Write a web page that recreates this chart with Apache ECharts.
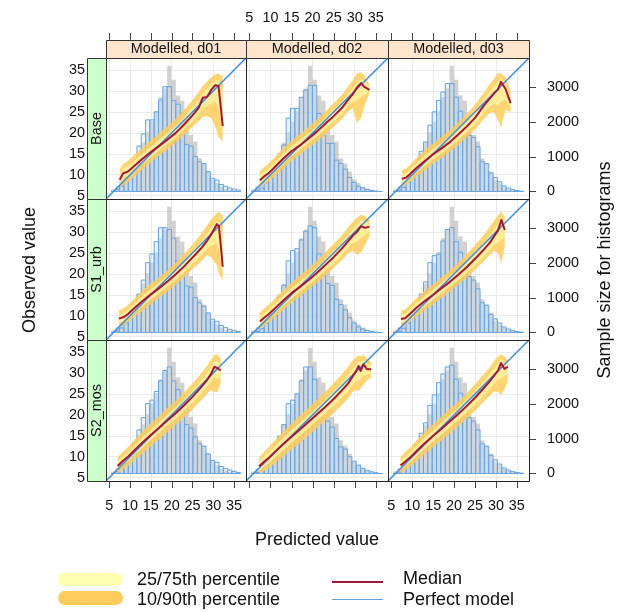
<!DOCTYPE html>
<html><head><meta charset="utf-8">
<script src="https://cdn.jsdelivr.net/npm/echarts@6/dist/echarts.min.js"></script>
<style>html,body{margin:0;padding:0;background:#fff}#c{width:626px;height:612px}</style>
</head><body><div id="c"></div>
<script>
// ---------- data ----------
const models = ['Modelled, d01', 'Modelled, d02', 'Modelled, d03'];
const scenarios = ['Base', 'S1_urb', 'S2_mos'];
const axisTicks = [5, 10, 15, 20, 25, 30, 35];
const countTicks = [0, 1000, 2000, 3000];
const valueRange = [4.2, 37.9];
const countRange = [-215, 3822];
const histBreaks = [5.4, 6.44, 7.48, 8.52, 9.56, 10.6, 11.64, 12.68, 13.72, 14.76, 15.8, 16.84, 17.88, 18.92, 19.96, 21.0, 22.04, 23.08, 24.12, 25.16, 26.2, 27.24, 28.28, 29.32, 30.36, 31.4, 32.44, 33.48, 34.52, 35.56, 36.6];
const histObserved = [60, 150, 300, 450, 650, 850, 1100, 1400, 1700, 2000, 2300, 2700, 2950, 3600, 3200, 2750, 2600, 1950, 1620, 1430, 950, 800, 570, 340, 240, 140, 80, 50, 25, 10];

const base_d01_pred = [0, 50, 150, 300, 550, 900, 1300, 1650, 2050, 2050, 2280, 2620, 3000, 3000, 2600, 2500, 2050, 1350, 1300, 1000, 850, 800, 570, 380, 330, 200, 150, 100, 70, 40];
const base_d02_pred = [0, 30, 100, 250, 450, 700, 1000, 1330, 2100, 2380, 2380, 2700, 2900, 3040, 3040, 2230, 1610, 1380, 1380, 900, 800, 640, 400, 260, 150, 100, 60, 30, 10, 0];
const base_d03_pred = [0, 40, 120, 280, 500, 800, 1150, 1420, 1900, 2280, 2610, 2850, 3090, 3090, 2700, 2300, 1900, 1610, 1550, 1280, 850, 800, 530, 400, 280, 160, 100, 60, 30, 10];
const s1_d01_pred = [0, 40, 130, 280, 520, 820, 1100, 1500, 2000, 2250, 2600, 3000, 3000, 2950, 2700, 2050, 1900, 1330, 1300, 1000, 850, 750, 560, 380, 320, 200, 140, 90, 60, 30];
const s1_d02_pred = [0, 30, 110, 260, 460, 720, 1020, 1350, 2050, 2350, 2400, 2650, 2900, 3050, 3000, 2250, 1650, 1400, 1350, 950, 800, 650, 420, 270, 160, 100, 60, 30, 10, 0];
const s1_d03_pred = [0, 40, 120, 270, 480, 780, 1100, 1450, 2000, 2200, 2240, 2620, 2950, 3000, 2600, 2300, 1900, 1600, 1500, 1250, 850, 780, 520, 390, 270, 160, 100, 60, 30, 10];
const s2_d01_pred = [0, 50, 140, 300, 560, 880, 1250, 1600, 2000, 2100, 2350, 2650, 2950, 3050, 2650, 2400, 2000, 1400, 1300, 1050, 850, 780, 560, 370, 320, 200, 140, 100, 60, 30];
const s2_d02_pred = [0, 30, 110, 250, 450, 700, 1050, 1400, 2000, 2100, 2280, 2650, 3050, 3050, 2700, 2000, 1570, 1500, 1330, 1000, 760, 700, 480, 350, 240, 150, 95, 50, 20, 0];
const s2_d03_pred = [0, 40, 120, 280, 500, 820, 1150, 1450, 1950, 2250, 2600, 2850, 3050, 3100, 2700, 2300, 1900, 1600, 1500, 1250, 850, 780, 520, 390, 270, 160, 100, 60, 30, 10];

const base_d01_x   = [7.5, 8.3, 9.5, 11, 13, 15, 17, 19, 21, 23, 25, 26.5, 27.5, 28.5, 29.5, 30.5, 31.3, 32.3];
const base_d01_med = [8.8, 10.3, 10.8, 12.1, 13.8, 15.4, 16.9, 18.4, 20.0, 22.0, 24.2, 26.0, 28.4, 28.6, 30.2, 31.4, 31.2, 21.6];
const base_d01_q25 = [7.8, 9.0, 9.6, 10.8, 12.6, 14.2, 15.8, 17.3, 18.9, 20.8, 22.8, 24.4, 26.0, 26.4, 27.0, 27.5, 26.0, 19.5];
const base_d01_q75 = [10.0, 11.5, 12.0, 13.4, 15.0, 16.7, 18.4, 20.0, 21.7, 23.7, 26.0, 27.9, 29.5, 30.5, 31.6, 32.5, 32.6, 29.0];
const base_d01_q10 = [7.0, 7.5, 8.2, 9.5, 11.4, 13.0, 14.6, 16.1, 17.7, 19.5, 21.4, 22.8, 23.8, 24.0, 23.5, 21.5, 19.0, 18.0];
const base_d01_q90 = [11.2, 12.6, 13.3, 14.8, 16.5, 18.2, 19.9, 21.6, 23.4, 25.5, 27.8, 29.8, 31.2, 32.2, 33.3, 34.0, 34.2, 33.5];

const base_d02_x   = [7.5, 8.5, 9.5, 11, 13, 15, 17, 19, 21, 23, 25, 27, 28.5, 29.5, 30.5, 31.5, 32.3, 33.5];
const base_d02_med = [8.7, 9.6, 10.3, 11.8, 13.8, 15.6, 17.0, 18.6, 20.3, 22.2, 24.0, 26.0, 28.0, 29.2, 30.8, 31.9, 31.0, 30.3];
const base_d02_q25 = [7.8, 8.6, 9.3, 10.7, 12.6, 14.4, 15.9, 17.5, 19.1, 20.9, 22.7, 24.6, 26.5, 27.4, 27.8, 28.5, 29.0, 29.8];
const base_d02_q75 = [9.8, 10.7, 11.4, 12.9, 15.0, 16.8, 18.3, 19.9, 21.6, 23.6, 25.5, 27.5, 29.4, 30.6, 32.0, 32.9, 32.5, 31.0];
const base_d02_q10 = [7.0, 7.7, 8.3, 9.6, 11.5, 13.3, 14.8, 16.4, 17.9, 19.6, 21.4, 23.3, 25.2, 25.9, 22.4, 23.5, 26.5, 29.5];
const base_d02_q90 = [10.9, 11.8, 12.6, 14.2, 16.3, 18.1, 19.7, 21.4, 23.2, 25.1, 27.1, 29.2, 31.2, 32.5, 34.2, 34.5, 33.8, 31.5];

const base_d03_x   = [7.5, 8.5, 9.5, 11, 13, 15, 17, 19, 21, 23, 25, 27, 28.5, 29.5, 30.5, 31.2, 32.3, 33.5];
const base_d03_med = [9.0, 9.3, 10.2, 11.6, 13.3, 14.9, 16.3, 17.8, 19.6, 21.5, 23.6, 26.4, 28.2, 29.4, 30.4, 32.2, 30.5, 27.1];
const base_d03_q25 = [8.0, 8.4, 9.2, 10.5, 12.1, 13.7, 15.1, 16.6, 18.3, 20.1, 22.1, 24.7, 26.3, 27.0, 26.5, 27.5, 28.0, 26.0];
const base_d03_q75 = [10.1, 10.4, 11.3, 12.8, 14.6, 16.2, 17.6, 19.2, 21.0, 22.9, 25.1, 27.9, 29.8, 31.0, 32.2, 33.0, 32.0, 28.5];
const base_d03_q10 = [7.2, 7.6, 8.3, 9.5, 11.1, 12.6, 14.0, 15.5, 17.1, 18.9, 20.8, 23.2, 24.7, 25.0, 23.0, 21.2, 25.5, 25.0];
const base_d03_q90 = [11.1, 11.5, 12.4, 14.0, 15.9, 17.5, 19.0, 20.7, 22.5, 24.5, 26.7, 29.5, 31.6, 32.9, 34.3, 34.2, 33.3, 30.0];

const s1_d01_x   = [7.3, 8.5, 9.5, 11, 13, 15, 17, 19, 21, 23, 25, 27, 28.5, 29.5, 30.9, 31.4, 32.3];
const s1_d01_med = [9.3, 9.7, 10.4, 11.8, 13.5, 15.1, 16.6, 18.2, 19.9, 21.8, 23.9, 26.0, 27.9, 29.4, 31.9, 31.3, 21.7];
const s1_d01_q25 = [8.3, 8.7, 9.4, 10.7, 12.3, 13.9, 15.4, 16.9, 18.6, 20.4, 22.4, 24.3, 25.9, 26.8, 27.2, 25.5, 19.5];
const s1_d01_q75 = [10.4, 10.8, 11.5, 12.9, 14.7, 16.4, 17.9, 19.5, 21.3, 23.2, 25.4, 27.6, 29.6, 31.0, 32.6, 32.5, 29.0];
const s1_d01_q10 = [7.5, 7.9, 8.5, 9.7, 11.2, 12.8, 14.3, 15.8, 17.4, 19.2, 21.1, 22.9, 24.5, 24.0, 22.0, 20.0, 18.5];
const s1_d01_q90 = [11.3, 11.8, 12.6, 14.1, 16.0, 17.7, 19.2, 20.9, 22.7, 24.7, 27.0, 29.4, 31.5, 33.0, 34.5, 34.8, 34.0];

const s1_d02_x   = [7.5, 8.5, 9.5, 11, 13, 15, 17, 19, 21, 23, 25, 27, 28.5, 29.5, 30.5, 31.5, 32.5, 33.5];
const s1_d02_med = [8.6, 9.5, 10.3, 11.7, 13.6, 15.4, 16.9, 18.5, 20.2, 22.1, 24.0, 26.1, 27.9, 29.1, 30.0, 31.4, 31.0, 31.3];
const s1_d02_q25 = [7.7, 8.6, 9.3, 10.6, 12.4, 14.2, 15.7, 17.3, 18.9, 20.8, 22.6, 24.6, 26.3, 27.3, 27.6, 28.6, 29.3, 30.2];
const s1_d02_q75 = [9.7, 10.6, 11.4, 12.8, 14.8, 16.6, 18.2, 19.8, 21.5, 23.5, 25.5, 27.6, 29.4, 30.6, 31.7, 32.9, 32.5, 32.0];
const s1_d02_q10 = [6.9, 7.7, 8.4, 9.6, 11.4, 13.1, 14.6, 16.2, 17.8, 19.6, 21.4, 23.3, 25.0, 25.5, 24.6, 25.2, 27.0, 29.0];
const s1_d02_q90 = [10.8, 11.7, 12.5, 14.0, 16.1, 17.9, 19.6, 21.3, 23.1, 25.1, 27.2, 29.3, 31.2, 32.4, 33.4, 34.2, 33.8, 32.8];

const s1_d03_x   = [7.3, 8.3, 9.5, 11, 13, 15, 17, 19, 21, 23, 25, 27, 28.5, 29.5, 30.5, 31.3, 32.1];
const s1_d03_med = [9.2, 9.4, 10.5, 11.9, 13.5, 15.0, 16.6, 18.1, 19.8, 21.6, 23.6, 25.7, 27.4, 28.9, 30.4, 32.9, 30.5];
const s1_d03_q25 = [8.3, 8.5, 9.5, 10.8, 12.3, 13.8, 15.4, 16.9, 18.5, 20.2, 22.1, 24.1, 25.7, 26.8, 27.5, 28.0, 29.0];
const s1_d03_q75 = [10.3, 10.5, 11.6, 13.0, 14.7, 16.2, 17.9, 19.5, 21.2, 23.1, 25.2, 27.4, 29.2, 30.6, 32.0, 33.8, 32.3];
const s1_d03_q10 = [7.5, 7.7, 8.6, 9.8, 11.3, 12.7, 14.3, 15.8, 17.4, 19.1, 21.0, 22.9, 24.5, 25.5, 25.0, 22.5, 26.5];
const s1_d03_q90 = [11.2, 11.5, 12.7, 14.2, 16.0, 17.5, 19.2, 20.9, 22.7, 24.7, 26.9, 29.2, 31.2, 32.6, 34.0, 34.9, 33.5];

const s2_d01_x   = [7.0, 8.5, 9.5, 11, 13, 15, 17, 19, 21, 23, 25, 27, 28.5, 29.5, 30.3, 31.0, 31.8];
const s2_d01_med = [7.8, 9.2, 10.0, 11.5, 13.4, 15.2, 16.9, 18.7, 20.4, 22.3, 24.3, 26.5, 28.3, 29.8, 31.5, 31.2, 30.6];
const s2_d01_q25 = [7.0, 8.3, 9.0, 10.4, 12.2, 14.0, 15.7, 17.5, 19.1, 21.0, 22.9, 25.0, 26.7, 27.9, 29.0, 28.5, 29.0];
const s2_d01_q75 = [8.8, 10.2, 11.0, 12.6, 14.6, 16.4, 18.2, 20.0, 21.8, 23.7, 25.8, 28.0, 29.9, 31.4, 32.8, 33.0, 32.0];
const s2_d01_q10 = [6.0, 7.1, 7.8, 9.1, 10.8, 12.5, 14.2, 15.9, 17.6, 19.4, 21.3, 23.3, 25.0, 26.0, 25.5, 25.5, 27.5];
const s2_d01_q90 = [9.9, 11.4, 12.3, 14.0, 16.1, 18.0, 19.8, 21.7, 23.4, 25.4, 27.5, 29.8, 31.7, 33.2, 34.3, 34.5, 33.5];

const s2_d02_x   = [7.3, 8.5, 9.5, 11, 13, 15, 17, 19, 21, 23, 25, 27, 28.5, 29.5, 30.3, 30.9, 31.4, 32.1, 32.9, 33.9];
const s2_d02_med = [7.7, 8.8, 9.6, 11.1, 13.0, 14.8, 16.5, 18.3, 20.1, 21.9, 23.8, 25.9, 27.6, 29.2, 30.4, 31.7, 30.5, 32.1, 30.9, 30.9];
const s2_d02_q25 = [6.7, 7.6, 8.3, 9.7, 11.5, 13.3, 15.0, 16.8, 18.6, 20.4, 22.2, 24.2, 25.8, 27.2, 28.0, 28.3, 28.5, 29.5, 29.5, 29.8];
const s2_d02_q75 = [8.9, 10.1, 10.9, 12.5, 14.5, 16.4, 18.1, 19.9, 21.7, 23.6, 25.6, 27.8, 29.6, 31.0, 32.1, 32.8, 32.6, 33.2, 32.3, 31.8];
const s2_d02_q10 = [5.8, 6.6, 7.2, 8.4, 10.0, 11.7, 13.3, 15.1, 16.8, 18.6, 20.4, 22.4, 24.0, 25.4, 26.0, 25.7, 26.3, 27.3, 28.2, 29.0];
const s2_d02_q90 = [9.8, 11.2, 12.2, 13.9, 16.0, 17.9, 19.8, 21.7, 23.6, 25.5, 27.6, 29.8, 31.6, 33.0, 33.8, 34.2, 34.0, 34.3, 33.5, 32.5];

const s2_d03_x   = [7.2, 8.5, 9.5, 11, 13, 15, 17, 19, 21, 23, 25, 27, 28.5, 29.5, 30.5, 31.2, 32.0, 32.8];
const s2_d03_med = [7.9, 9.0, 9.8, 11.3, 13.2, 15.0, 16.7, 18.5, 20.2, 22.1, 24.1, 26.3, 28.0, 29.3, 30.6, 32.4, 31.0, 31.5];
const s2_d03_q25 = [7.0, 8.0, 8.7, 10.1, 11.9, 13.7, 15.3, 17.1, 18.8, 20.6, 22.5, 24.6, 26.2, 27.4, 28.2, 28.8, 29.0, 29.8];
const s2_d03_q75 = [9.0, 10.2, 11.0, 12.6, 14.6, 16.4, 18.2, 20.0, 21.7, 23.7, 25.8, 28.0, 29.8, 31.1, 32.4, 33.5, 32.6, 32.6];
const s2_d03_q10 = [6.0, 7.0, 7.6, 8.9, 10.6, 12.3, 13.9, 15.6, 17.3, 19.1, 21.0, 23.0, 24.6, 25.6, 25.5, 24.8, 26.0, 28.0];
const s2_d03_q90 = [10.0, 11.3, 12.2, 13.9, 16.0, 17.8, 19.6, 21.5, 23.2, 25.2, 27.3, 29.6, 31.4, 32.8, 34.0, 34.5, 34.0, 33.2];

// ---------- panel table ----------
const panels = [
  [base_d01_x, base_d01_med, base_d01_q25, base_d01_q75, base_d01_q10, base_d01_q90, base_d01_pred],
  [base_d02_x, base_d02_med, base_d02_q25, base_d02_q75, base_d02_q10, base_d02_q90, base_d02_pred],
  [base_d03_x, base_d03_med, base_d03_q25, base_d03_q75, base_d03_q10, base_d03_q90, base_d03_pred],
  [s1_d01_x, s1_d01_med, s1_d01_q25, s1_d01_q75, s1_d01_q10, s1_d01_q90, s1_d01_pred],
  [s1_d02_x, s1_d02_med, s1_d02_q25, s1_d02_q75, s1_d02_q10, s1_d02_q90, s1_d02_pred],
  [s1_d03_x, s1_d03_med, s1_d03_q25, s1_d03_q75, s1_d03_q10, s1_d03_q90, s1_d03_pred],
  [s2_d01_x, s2_d01_med, s2_d01_q25, s2_d01_q75, s2_d01_q10, s2_d01_q90, s2_d01_pred],
  [s2_d02_x, s2_d02_med, s2_d02_q25, s2_d02_q75, s2_d02_q10, s2_d02_q90, s2_d02_pred],
  [s2_d03_x, s2_d03_med, s2_d03_q25, s2_d03_q75, s2_d03_q10, s2_d03_q90, s2_d03_pred]
];

// ---------- layout / style ----------
const FONT = '"Liberation Sans", Arial, sans-serif';
const colLeft = [106, 246, 388], colW = [140, 142, 141];
const rowTop = [58, 199, 340], rowH = 141;
const stripH = 18, sideStripW = 19, tickLen = 7;
const C = {
  grey: 'rgba(180,180,180,0.62)', blueFill: 'rgba(200,224,246,0.40)', blueLine: '#6aa3dc',
  band90: '#FECC5C', band75: '#FFFFB2', median: '#a3173b', perfect: '#3f8fdc', tick: '#444'
};

const grids = [], xAxes = [], yAxes = [], series = [], graphics = [];

function histRender(fill, stroke) {
  return function (params, api) {
    const a = api.coord([api.value(0), 0]);
    const b = api.coord([api.value(1), api.value(2)]);
    return { type: 'rect', shape: { x: a[0], y: b[1], width: b[0] - a[0], height: a[1] - b[1] },
      style: { fill: fill, stroke: stroke || null, lineWidth: stroke ? 1 : 0 } };
  };
}
function bandRender(xs, lo, hi, fill, opacity) {
  return function (params, api) {
    if (params.dataIndex !== 0) return null;
    const up = xs.map((x, k) => api.coord([x, hi[k]]));
    const dn = xs.map((x, k) => api.coord([x, lo[k]])).reverse();
    return { type: 'polygon', shape: { points: up.concat(dn) }, style: { fill: fill, opacity: opacity } };
  };
}
function xTickRender(side, shift) {
  return function (params, api) {
    const p = api.coord([api.value(0), valueRange[0]]);
    const q = api.coord([api.value(0), valueRange[1]]);
    const x = Math.round(p[0]) + 0.5;
    const y0 = side === 'bottom' ? p[1] : q[1] - shift;
    const y1 = side === 'bottom' ? y0 + tickLen : y0 - tickLen;
    return { type: 'line', shape: { x1: x, y1: y0, x2: x, y2: y1 }, style: { stroke: C.tick, lineWidth: 1 } };
  };
}
function yTickRender() {
  return function (params, api) {
    const p = api.coord([valueRange[1], api.value(0)]);
    const y = Math.round(p[1]) + 0.5;
    return { type: 'line', shape: { x1: p[0], y1: y, x2: p[0] + tickLen, y2: y }, style: { stroke: C.tick, lineWidth: 1 } };
  };
}

panels.forEach((p, i) => {
  const row = Math.floor(i / 3), col = i % 3;
  const [xs, med, q25, q75, q10, q90, pred] = p;
  grids.push({ left: colLeft[col], top: rowTop[row], width: colW[col], height: rowH, outerBoundsMode: 'none', containLabel: false });
  const showXLab = (row === 0 && col === 1) || (row === 2 && col !== 1);
  xAxes.push({
    gridIndex: i, type: 'value', min: valueRange[0], max: valueRange[1], splitNumber: 7,
    position: row === 0 ? 'top' : 'bottom', offset: row === 0 ? stripH : 0,
    axisLine: { show: false }, axisTick: { show: false },
    axisLabel: { show: showXLab, customValues: axisTicks, margin: row === 0 ? 15 : 18, fontSize: 14.4, color: '#111', fontFamily: FONT },
    splitLine: { show: true, lineStyle: { color: '#ebebeb', width: 1 } }
  });
  yAxes.push({
    gridIndex: i, type: 'value', min: valueRange[0], max: valueRange[1], splitNumber: 7,
    position: 'left', offset: sideStripW,
    axisLine: { show: false }, axisTick: { show: false },
    axisLabel: { show: col === 0, customValues: axisTicks, margin: 2, fontSize: 14.4, color: '#111', fontFamily: FONT },
    splitLine: { show: true, lineStyle: { color: '#ebebeb', width: 1 } }
  });
  yAxes.push({
    gridIndex: i, type: 'value', min: countRange[0], max: countRange[1],
    position: 'right',
    axisLine: { show: false }, axisTick: { show: false },
    axisLabel: { show: col === 2, customValues: countTicks, margin: 18, fontSize: 14.4, color: '#111', fontFamily: FONT,
      formatter: v => String(v) },
    splitLine: { show: false }
  });
  const obsRows = histObserved.map((v, k) => [histBreaks[k], histBreaks[k + 1], v]);
  const predRows = pred.map((v, k) => [histBreaks[k], histBreaks[k + 1], v]);
  series.push({ type: 'custom', xAxisIndex: i, yAxisIndex: 2 * i + 1, clip: true, silent: true,
    encode: { x: [0, 1], y: 2 }, data: obsRows, renderItem: histRender(C.grey, null), z: 1 });
  series.push({ type: 'custom', xAxisIndex: i, yAxisIndex: 2 * i + 1, clip: true, silent: true,
    encode: { x: [0, 1], y: 2 }, data: predRows, renderItem: histRender(C.blueFill, C.blueLine), z: 2 });
  series.push({ type: 'custom', xAxisIndex: i, yAxisIndex: 2 * i, clip: true, silent: true,
    encode: { x: 0, y: [1, 2] }, data: xs.map((x, k) => [x, q10[k], q90[k]]),
    renderItem: bandRender(xs, q10, q90, C.band90, 0.85), z: 3 });
  series.push({ type: 'custom', xAxisIndex: i, yAxisIndex: 2 * i, clip: true, silent: true,
    encode: { x: 0, y: [1, 2] }, data: xs.map((x, k) => [x, q25[k], q75[k]]),
    renderItem: bandRender(xs, q25, q75, C.band75, 0.6), z: 4 });
  series.push({ type: 'line', xAxisIndex: i, yAxisIndex: 2 * i, showSymbol: false, silent: true, z: 5,
    data: [[valueRange[0], valueRange[0]], [valueRange[1], valueRange[1]]],
    lineStyle: { color: C.perfect, width: 1.6 } });
  series.push({ type: 'line', xAxisIndex: i, yAxisIndex: 2 * i, showSymbol: false, silent: true, z: 6,
    data: xs.map((x, k) => [x, med[k]]),
    lineStyle: { color: C.median, width: 2, join: 'round' } });
  if (row === 0 || row === 2) {
    series.push({ type: 'custom', xAxisIndex: i, yAxisIndex: 2 * i, clip: false, silent: true, z: 7,
      encode: { x: 0 }, data: axisTicks.map(v => [v]),
      renderItem: xTickRender(row === 0 ? 'top' : 'bottom', stripH) });
  }
  if (col === 2) {
    series.push({ type: 'custom', xAxisIndex: i, yAxisIndex: 2 * i + 1, clip: false, silent: true, z: 7,
      encode: { y: 0 }, data: countTicks.map(v => [v]),
      renderItem: yTickRender() });
  }
  graphics.push({ type: 'rect', z: 100, silent: true,
    shape: { x: colLeft[col] + 0.5, y: rowTop[row] + 0.5, width: colW[col], height: rowH },
    style: { fill: null, stroke: '#222', lineWidth: 1 } });
});

models.forEach((m, c) => {
  graphics.push({ type: 'rect', z: 100, silent: true,
    shape: { x: colLeft[c] + 0.5, y: rowTop[0] - stripH + 0.5, width: colW[c], height: stripH },
    style: { fill: '#FFE5CC', stroke: '#333', lineWidth: 1 } });
  graphics.push({ type: 'text', z: 101, silent: true, x: colLeft[c] + colW[c] / 2, y: rowTop[0] - stripH / 2 + 0.5,
    style: { text: m, fontSize: 14.4, fontFamily: FONT, fill: '#111', textAlign: 'center', textVerticalAlign: 'middle' } });
});
scenarios.forEach((s, r) => {
  graphics.push({ type: 'rect', z: 100, silent: true,
    shape: { x: colLeft[0] - sideStripW + 0.5, y: rowTop[r] + 0.5, width: sideStripW, height: rowH },
    style: { fill: '#CCFFCC', stroke: '#333', lineWidth: 1 } });
  graphics.push({ type: 'text', z: 101, silent: true, x: colLeft[0] - sideStripW / 2 + 0.5, y: rowTop[r] + rowH / 2,
    rotation: Math.PI / 2,
    style: { text: s, fontSize: 14.4, fontFamily: FONT, fill: '#111', textAlign: 'center', textVerticalAlign: 'middle' } });
});
graphics.push({ type: 'text', x: 317, y: 540, silent: true,
  style: { text: 'Predicted value', fontSize: 18, fontFamily: FONT, fill: '#111', textAlign: 'center', textVerticalAlign: 'middle' } });
graphics.push({ type: 'text', x: 30, y: 270, rotation: Math.PI / 2, silent: true,
  style: { text: 'Observed value', fontSize: 18, fontFamily: FONT, fill: '#111', textAlign: 'center', textVerticalAlign: 'middle' } });
graphics.push({ type: 'text', x: 605, y: 270, rotation: Math.PI / 2, silent: true,
  style: { text: 'Sample size for histograms', fontSize: 18, fontFamily: FONT, fill: '#111', textAlign: 'center', textVerticalAlign: 'middle' } });
graphics.push({ type: 'rect', silent: true, shape: { x: 58, y: 573, width: 65, height: 13, r: 6.5 }, style: { fill: C.band75 } });
graphics.push({ type: 'rect', silent: true, shape: { x: 58, y: 591, width: 65, height: 14, r: 7 }, style: { fill: C.band90 } });
graphics.push({ type: 'text', x: 137, y: 580, silent: true,
  style: { text: '25/75th percentile', fontSize: 18, fontFamily: FONT, fill: '#111', textAlign: 'left', textVerticalAlign: 'middle' } });
graphics.push({ type: 'text', x: 137, y: 600, silent: true,
  style: { text: '10/90th percentile', fontSize: 18, fontFamily: FONT, fill: '#111', textAlign: 'left', textVerticalAlign: 'middle' } });
graphics.push({ type: 'line', silent: true, shape: { x1: 332, y1: 582, x2: 383, y2: 582 }, style: { stroke: C.median, lineWidth: 2 } });
graphics.push({ type: 'line', silent: true, shape: { x1: 332, y1: 599.5, x2: 383, y2: 599.5 }, style: { stroke: '#5da3e0', lineWidth: 1.2 } });
graphics.push({ type: 'text', x: 403, y: 579, silent: true,
  style: { text: 'Median', fontSize: 18, fontFamily: FONT, fill: '#111', textAlign: 'left', textVerticalAlign: 'middle' } });
graphics.push({ type: 'text', x: 403, y: 600, silent: true,
  style: { text: 'Perfect model', fontSize: 18, fontFamily: FONT, fill: '#111', textAlign: 'left', textVerticalAlign: 'middle' } });

const chart = echarts.init(document.getElementById('c'), null, { renderer: 'canvas' });
chart.setOption({
  animation: false, backgroundColor: '#fff',
  textStyle: { fontFamily: FONT },
  grid: grids, xAxis: xAxes, yAxis: yAxes, series: series, graphic: graphics
});
</script></body></html>
